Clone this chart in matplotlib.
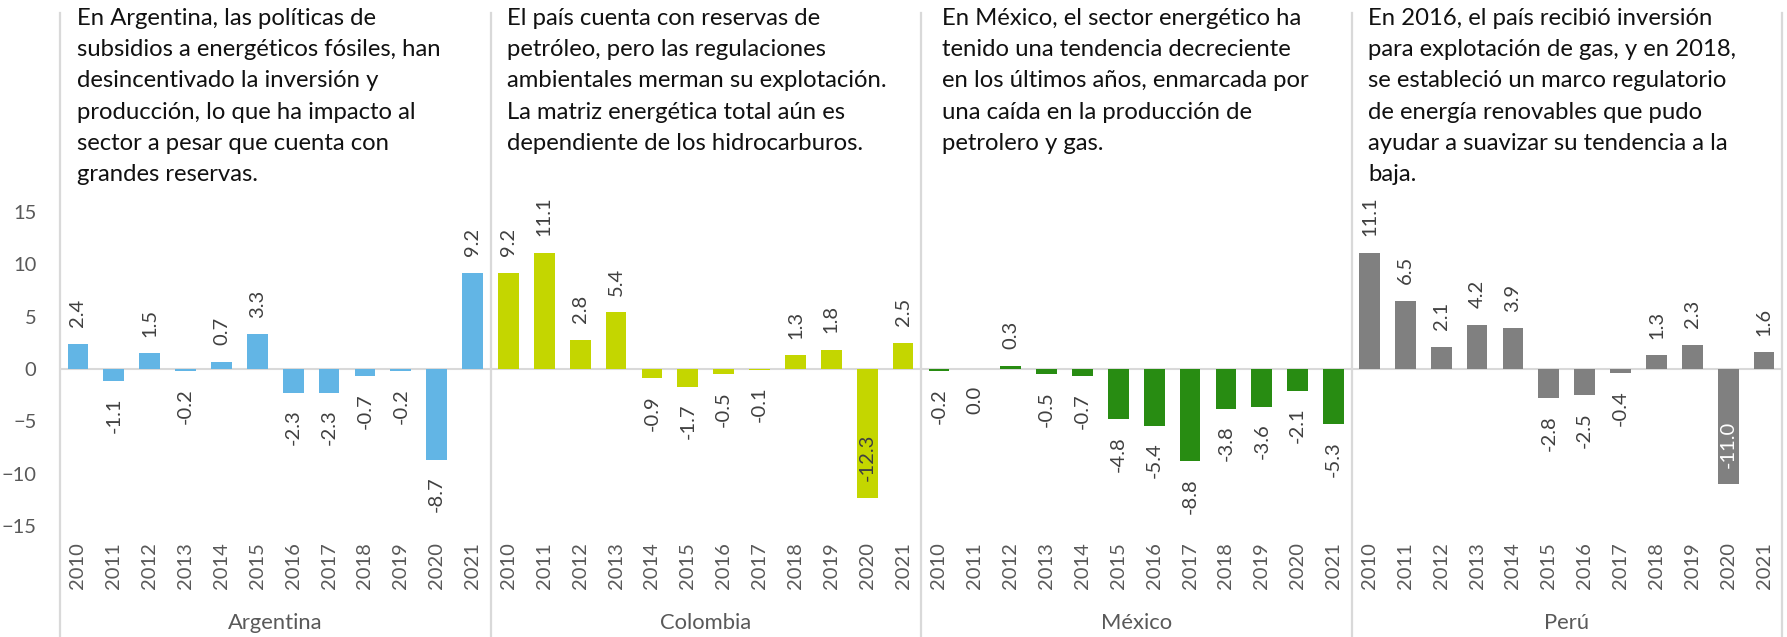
import numpy as np
import matplotlib
matplotlib.use("Agg")
import matplotlib.pyplot as plt

plt.rcParams['font.family'] = ['Lato', 'DejaVu Sans']

# --- DATA ---
countries = ["Argentina", "Colombia", "México", "Perú"]
years = ["2010", "2011", "2012", "2013", "2014", "2015",
         "2016", "2017", "2018", "2019", "2020", "2021"]
argentina = [2.4, -1.1, 1.5, -0.2, 0.7, 3.3, -2.3, -2.3, -0.7, -0.2, -8.7, 9.2]
colombia = [9.2, 11.1, 2.8, 5.4, -0.9, -1.7, -0.5, -0.1, 1.3, 1.8, -12.3, 2.5]
mexico = [-0.2, 0.0, 0.3, -0.5, -0.7, -4.8, -5.4, -8.8, -3.8, -3.6, -2.1, -5.3]
peru = [11.1, 6.5, 2.1, 4.2, 3.9, -2.8, -2.5, -0.4, 1.3, 2.3, -11.0, 1.6]
notes = [
    "En Argentina, las políticas de\nsubsidios a energéticos fósiles, han\n"
    "desincentivado la inversión y\nproducción, lo que ha impacto al\n"
    "sector a pesar que cuenta con\ngrandes reservas.",
    "El país cuenta con reservas de\npetróleo, pero las regulaciones\n"
    "ambientales merman su explotación.\nLa matriz energética total aún es\n"
    "dependiente de los hidrocarburos.",
    "En México, el sector energético ha\ntenido una tendencia decreciente\n"
    "en los últimos años, enmarcada por\nuna caída en la producción de\n"
    "petrolero y gas.",
    "En 2016, el país recibió inversión\npara explotación de gas, y en 2018,\n"
    "se estableció un marco regulatorio\nde energía renovables que pudo\n"
    "ayudar a suavizar su tendencia a la\nbaja.",
]

colors = ["#62B5E5", "#C4D600", "#288C12", "#808080"]
series = [argentina, colombia, mexico, peru]

W, H = 1787, 637
fig = plt.figure(figsize=(W / 100, H / 100), dpi=100)
ax_left, ax_right, ax_top, ax_bot = 60, 1782, 13, 527
ax = fig.add_axes([ax_left / W, (H - ax_bot) / H,
                   (ax_right - ax_left) / W, (ax_bot - ax_top) / H])

grey_txt = "#595959"
line_c = "#D9D9D9"
num_fs = 14.5

n = len(years)
for g, (vals, c) in enumerate(zip(series, colors)):
    x = np.arange(n) + g * n
    ax.bar(x, vals, width=0.58, color=c, zorder=2)
    for xi, v in zip(x, vals):
        inside = v < -10.5
        if inside:
            ax.annotate(f"{v:.1f}", (xi, v), xytext=(0, 12), textcoords="offset points",
                        rotation=90, ha="center", va="bottom", fontsize=num_fs,
                        color="white" if c == "#808080" else "#404040")
        elif v > 0:
            ax.annotate(f"{v:.1f}", (xi, v), xytext=(0, 12), textcoords="offset points",
                        rotation=90, ha="center", va="bottom", fontsize=num_fs, color="#404040")
        else:
            ax.annotate(f"{v:.1f}", (xi, v), xytext=(0, -12), textcoords="offset points",
                        rotation=90, ha="center", va="top", fontsize=num_fs, color="#404040")

ax.axhline(0, color=line_c, lw=1.5, zorder=1)

ax.set_xlim(-0.5, 4 * n - 0.5)
ax.set_ylim(-(ax_bot - 369) / 10.47, (369 - ax_top) / 10.47)
ax.set_yticks([-15, -10, -5, 0, 5, 10, 15])
ax.set_xticks(np.arange(4 * n))
ax.set_xticklabels(years * 4, rotation=90, fontsize=num_fs, color=grey_txt)
ax.tick_params(axis="x", length=0, pad=11)
ax.tick_params(axis="y", length=0, pad=17, labelsize=num_fs, labelcolor=grey_txt)
for s in ax.spines.values():
    s.set_visible(False)

# group separators running from the top down through the label area
ybot = -(H - ax_bot) / (ax_bot - ax_top)
for b in range(5):
    ax.plot([b * n - 0.5] * 2, [ybot, 1.0], transform=ax.get_xaxis_transform(),
            color=line_c, lw=1.6, clip_on=False, zorder=0)

for g, name in enumerate(countries):
    ax.annotate(name, ((g + 0.5) * n - 0.5, 0), xycoords=("data", "figure fraction"),
                xytext=(0, 14), textcoords="offset pixels",
                ha="center", va="center", fontsize=15.8, color=grey_txt)

note_x = [77, 507, 942, 1368]
for xp, txt in zip(note_x, notes):
    fig.text(xp / W, 1 - 8 / H, txt, ha="left", va="top", fontsize=17.2,
             color="#111111", linespacing=1.6)

fig.savefig("out.png", dpi=100)
